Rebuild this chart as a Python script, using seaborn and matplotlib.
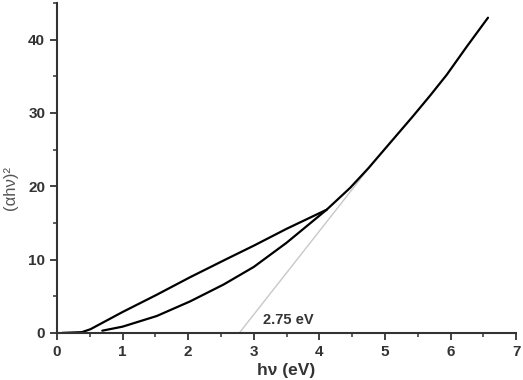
import numpy as np
import pandas as pd
import matplotlib
matplotlib.use("Agg")
import matplotlib.pyplot as plt
import seaborn as sns
from matplotlib.ticker import MultipleLocator

# upper branch (from the origin to the junction)
upper_hv = [0.08, 0.38, 0.51, 1.0, 1.52, 2.03, 2.59, 3.0, 3.5, 4.11]
upper_y = [0.0, 0.1, 0.5, 2.85, 5.2, 7.6, 10.1, 11.9, 14.2, 16.8]

# lower branch and its continuation to high energy
lower_hv = [0.69, 1.0, 1.52, 2.03, 2.54, 3.0, 3.5, 4.11, 4.47, 4.75, 4.97,
            5.43, 5.69, 5.94, 6.25, 6.57]
lower_y = [0.3, 0.85, 2.3, 4.3, 6.6, 9.0, 12.3, 16.8, 19.8, 22.5, 24.8,
           29.6, 32.4, 35.2, 39.1, 43.0]

# linear extrapolation to the band gap
fit_hv = [2.78, 4.8]
fit_y = [0.0, 23.0]
gap_label = "2.75 eV"

sns.set_theme(style="ticks")
plt.rcParams["font.family"] = ["Liberation Sans", "DejaVu Sans"]

df_up = pd.DataFrame({"hv": upper_hv, "y": upper_y})
df_low = pd.DataFrame({"hv": lower_hv, "y": lower_y})
df_fit = pd.DataFrame({"hv": fit_hv, "y": fit_y})

fig = plt.figure(figsize=(5.23, 3.8), dpi=100)
ax = fig.add_axes([0.109, 0.124, 0.878, 0.868])

sns.lineplot(data=df_fit, x="hv", y="y", color="#c8c8c8", linewidth=1.0, sort=False, ax=ax)
sns.lineplot(data=df_up, x="hv", y="y", color="black", linewidth=1.6, sort=False, ax=ax)
sns.lineplot(data=df_low, x="hv", y="y", color="black", linewidth=1.6, sort=False, ax=ax)

ax.set_xlim(0, 7)
ax.set_ylim(0, 45)
ax.xaxis.set_major_locator(MultipleLocator(1))
ax.xaxis.set_minor_locator(MultipleLocator(0.5))
ax.yaxis.set_major_locator(MultipleLocator(10))
ax.yaxis.set_minor_locator(MultipleLocator(5))
ax.tick_params(which="major", direction="out", length=5, width=1.3, labelsize=11, colors="#333333")
ax.tick_params(which="minor", direction="out", length=3, width=1.1, colors="#333333")
for lab in ax.get_xticklabels() + ax.get_yticklabels():
    lab.set_fontweight("bold")

sns.despine(ax=ax)
for side in ["left", "bottom"]:
    ax.spines[side].set_linewidth(1.5)
    ax.spines[side].set_color("#333333")

ax.set_xlabel("hν (eV)", fontsize=12.5, fontweight="bold", color="#333333", labelpad=3)
ax.set_ylabel("(αhν)²", fontsize=12, color="#555555")
ax.yaxis.set_label_coords(-0.084, 0.44)

ax.text(3.52, 1.8, gap_label, fontsize=10.5, fontweight="bold", color="#333333",
        ha="center", va="center")

fig.savefig("out.png", dpi=100)
